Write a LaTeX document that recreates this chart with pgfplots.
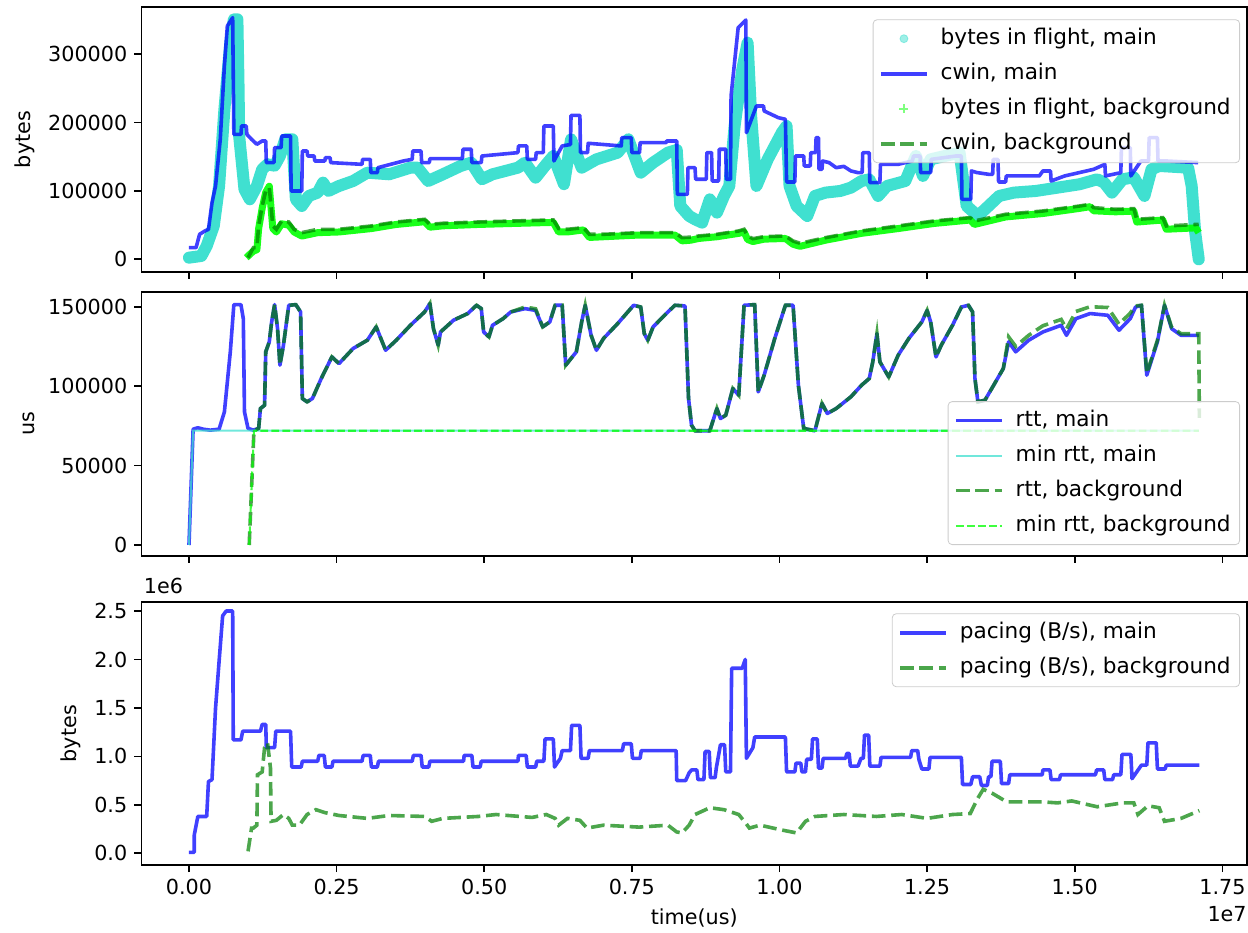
\documentclass[border=0pt]{standalone}
\usepackage{fontspec}
\setmainfont{DejaVu Sans}
\usepackage{pgfplots}
\pgfplotsset{compat=1.18}
\definecolor{turq}{RGB}{64,224,208}
\definecolor{mgreen}{RGB}{0,128,0}
\definecolor{limec}{RGB}{0,255,0}
\pgfplotsset{
  myaxis/.style={
    scale only axis, width=552.75pt,
    xmin=-0.0804, xmax=1.7917,
    axis line style={line width=0.83pt},
    every tick/.style={line width=0.83pt, black},
    major tick length=3.6pt, tick align=outside, tick pos=left,
    xtick={0,0.25,0.5,0.75,1,1.25,1.5,1.75},
    scaled ticks=false,
    legend cell align=left,
    legend image code/.code={\draw[##1] (0pt,0pt) -- (23pt,0pt);},
    legend style={draw=black!20, fill=white, fill opacity=0.8, draw opacity=1, text opacity=1,
      rounded corners=2pt, inner xsep=3pt, inner ysep=3pt, row sep=4.5pt, column sep=4.5pt,
      nodes={inner sep=1.5pt, text height=7.8pt, text depth=2.2pt},
      font=\fontsize{10.8pt}{12.9pt}\selectfont},
    tick label style={font=\fontsize{10.35pt}{12.4pt}\selectfont},
    label style={font=\fontsize{10.35pt}{12.4pt}\selectfont},
  },
  mainline/.style={color=blue, opacity=0.75, line width=1.8pt, line join=round},
  bgline/.style={color=mgreen, opacity=0.7, line width=1.8pt, dash pattern=on 6.8pt off 2.9pt},
}
\begin{document}
\begin{tikzpicture}[font=\fontsize{10.35pt}{12.4pt}\selectfont]
\useasboundingbox (0,0) rectangle (624pt,-466pt);
% ---------------- top panel ----------------
\begin{axis}[myaxis, at={(70.75pt,-3.65pt)}, anchor=north west, height=132.2pt,
  ymin=-18150, ymax=368800, ytick={0,100000,200000,300000},
  yticklabels={0,100000,200000,300000}, xticklabels={},
  ylabel={bytes},
  legend style={at={(0.9937,0.9546)}, anchor=north east}]
\addplot[forget plot, color=turq, line width=6pt, line join=round, line cap=round] coordinates {
(0.000,2400)(0.021,4900)(0.030,19500)(0.042,48800)(0.051,107300)(0.060,219500)(0.070,317000)(0.076,351200)(0.082,351200)(0.084,250000)(0.085,180500)(0.094,102400)(0.103,87800)(0.115,107300)(0.124,131700)(0.133,139000)(0.145,137000)(0.154,151200)(0.163,175600)(0.175,175600)(0.181,87800)(0.191,78000)(0.203,92700)(0.218,97600)(0.227,112200)(0.236,100000)(0.254,107300)(0.278,114600)(0.302,126800)(0.339,124400)(0.375,134100)(0.387,134100)(0.405,114600)(0.430,124400)(0.460,136600)(0.478,141500)(0.496,117100)(0.514,124400)(0.557,134100)(0.569,141500)(0.587,119500)(0.605,139000)(0.617,151200)(0.635,109800)(0.647,175600)(0.665,134100)(0.690,146300)(0.726,156100)(0.744,175600)(0.765,126800)(0.786,141500)(0.811,156100)(0.826,160000)(0.832,78000)(0.847,63400)(0.857,58500)(0.869,53700)(0.882,87800)(0.894,68300)(0.906,92700)(0.915,107300)(0.924,195100)(0.937,278000)(0.946,317100)(0.952,209800)(0.961,107300)(0.980,146300)(1.004,185400)(1.012,195100)(1.017,107300)(1.029,78000)(1.047,63400)(1.060,92700)(1.078,97600)(1.103,100000)(1.121,104900)(1.139,114600)(1.152,117000)(1.167,92700)(1.182,107300)(1.213,114600)(1.231,151200)(1.243,122000)(1.256,146300)(1.280,151200)(1.305,156100)(1.317,78000)(1.336,63400)(1.354,78000)(1.372,92700)(1.397,97600)(1.434,100000)(1.471,104900)(1.508,109800)(1.538,117100)(1.550,112000)(1.563,97600)(1.581,117100)(1.600,120000)(1.618,92700)(1.630,131700)(1.643,136600)(1.692,134100)(1.698,107300)(1.704,39000)(1.710,0)
};
\addlegendimage{legend image code/.code={\fill[turq, opacity=0.5] (11.5pt,0pt) circle (2pt);}}
\addlegendentry{bytes in flight, main}
\addplot[forget plot, color=limec, opacity=0.9, line width=3.5pt, line join=round] coordinates {
(0.097,2400)(0.109,12000)(0.115,14000)(0.118,45000)(0.124,75000)(0.130,98000)(0.136,107000)(0.139,75000)(0.142,45000)(0.148,40000)(0.157,52000)(0.169,50000)(0.178,40000)(0.191,34000)(0.218,39000)(0.254,40000)(0.309,45000)(0.351,51000)(0.399,55000)(0.408,47000)(0.430,49000)(0.490,51000)(0.551,52500)(0.617,54000)(0.626,40000)(0.641,40000)(0.668,43000)(0.678,32000)(0.702,33000)(0.762,35500)(0.823,35500)(0.835,27000)(0.850,28000)(0.863,30500)(0.894,33000)(0.931,38000)(0.940,40000)(0.946,29000)(0.955,26000)(0.974,29500)(1.010,30500)(1.023,22000)(1.035,19000)(1.078,28000)(1.139,38000)(1.201,45000)(1.262,52500)(1.323,57500)(1.330,51000)(1.383,62000)(1.446,67000)(1.508,74500)(1.526,77000)(1.532,71000)(1.569,69500)(1.600,70500)(1.605,54500)(1.649,57500)(1.655,44000)(1.705,46000)(1.710,39000)
};
\addplot[mainline] coordinates {
(0,17000)(0.012,17000)(0.018,36600)(0.027,41500)(0.033,43900)(0.039,82900)(0.045,107300)(0.053,175600)(0.060,283000)(0.065,341500)(0.074,353700)(0.076,182900)(0.088,182900)(0.089,195100)(0.097,195100)(0.098,182900)(0.106,175600)(0.115,168300)(0.124,173200)(0.130,173200)(0.131,141500)(0.144,141500)(0.145,163400)(0.156,163400)(0.157,180500)(0.172,180500)(0.173,100000)(0.191,100000)(0.192,158500)(0.200,158500)(0.201,151200)(0.212,151200)(0.213,143900)(0.230,143900)(0.231,148800)(0.239,148800)(0.240,141500)(0.293,139000)(0.294,146300)(0.307,146300)(0.308,126800)(0.319,126800)(0.320,134100)(0.363,143900)(0.378,146300)(0.379,158500)(0.393,158500)(0.394,141500)(0.407,141500)(0.408,147300)(0.463,147300)(0.464,161000)(0.478,161000)(0.479,141500)(0.495,141500)(0.496,151200)(0.557,156100)(0.558,165900)(0.572,165900)(0.573,146300)(0.587,146300)(0.588,156100)(0.600,156100)(0.601,195100)(0.617,195100)(0.618,143900)(0.632,165900)(0.646,168000)(0.647,210700)(0.662,210700)(0.663,156100)(0.675,156100)(0.676,169800)(0.732,165900)(0.733,178000)(0.749,178000)(0.750,156100)(0.763,156100)(0.764,170700)(0.808,170700)(0.809,173200)(0.826,173200)(0.827,95100)(0.844,95100)(0.845,134100)(0.857,134100)(0.858,117100)(0.876,117100)(0.877,156100)(0.885,156100)(0.886,114600)(0.897,114600)(0.898,161000)(0.909,161000)(0.910,117100)(0.917,117100)(0.918,239000)(0.930,339000)(0.943,350200)(0.944,185400)(0.961,224400)(0.973,224400)(0.974,217100)(0.986,212200)(0.998,207300)(1.010,204900)(1.012,113200)(1.026,113200)(1.027,151200)(1.041,151200)(1.042,136600)(1.052,136600)(1.053,156100)(1.061,156100)(1.062,178000)(1.066,178000)(1.067,131700)(1.072,131700)(1.073,143900)(1.084,141500)(1.096,134100)(1.109,136000)(1.121,129300)(1.133,126800)(1.140,126800)(1.141,156100)(1.152,156100)(1.153,112200)(1.170,112200)(1.171,139000)(1.201,139000)(1.225,143900)(1.227,151200)(1.238,151200)(1.239,126800)(1.256,126800)(1.257,146300)(1.299,151200)(1.308,151200)(1.309,87800)(1.324,87800)(1.325,129300)(1.334,127000)(1.354,124400)(1.361,124400)(1.362,146300)(1.370,146300)(1.371,113200)(1.383,113200)(1.384,122000)(1.440,122000)(1.446,129300)(1.459,129300)(1.460,114600)(1.483,122000)(1.532,131700)(1.551,139000)(1.552,122000)(1.578,126800)(1.579,163400)(1.594,163400)(1.595,122000)(1.612,143900)(1.625,143900)(1.626,178000)(1.640,178000)(1.641,143900)(1.655,143900)(1.709,141500)
};
\addlegendentry{cwin, main}
\addlegendimage{legend image code/.code={\draw[limec, opacity=0.5, line width=0.9pt] (9.25pt,0pt) -- (13.75pt,0pt) (11.5pt,-2.25pt) -- (11.5pt,2.25pt);}}
\addlegendentry{bytes in flight, background}
\addplot[bgline] coordinates {
(0.100,2400)(0.109,17000)(0.115,17000)(0.118,48800)(0.124,78000)(0.130,100000)(0.136,104900)(0.139,78000)(0.142,48800)(0.148,43900)(0.157,56100)(0.169,54600)(0.178,43900)(0.191,39000)(0.218,43900)(0.254,43900)(0.309,48800)(0.351,54600)(0.399,58500)(0.408,51200)(0.430,52700)(0.490,54600)(0.551,56100)(0.617,57600)(0.626,44900)(0.641,43900)(0.668,46300)(0.678,36600)(0.702,36600)(0.762,39000)(0.823,39000)(0.835,31700)(0.850,32500)(0.863,34100)(0.894,36600)(0.931,41500)(0.940,43900)(0.946,34100)(0.955,30200)(0.974,33200)(1.010,34100)(1.023,26800)(1.035,23400)(1.078,31700)(1.139,41500)(1.201,48800)(1.262,56100)(1.323,61000)(1.330,56100)(1.383,65900)(1.446,70700)(1.508,78000)(1.526,80500)(1.532,75600)(1.569,73200)(1.600,74100)(1.605,58500)(1.649,61000)(1.655,48800)(1.710,51200)
};
\addlegendentry{cwin, background}
\end{axis}
% ---------------- middle panel ----------------
\begin{axis}[myaxis, at={(70.75pt,-146.15pt)}, anchor=north west, height=131.7pt,
  ymin=-6740, ymax=159070, ytick={0,50000,100000,150000},
  yticklabels={0,50000,100000,150000}, xticklabels={},
  ylabel={us},
  legend style={at={(0.9937,0.0406)}, anchor=south east}]
\addplot[mainline] coordinates {
(0,0)(0.007,72900)(0.015,73800)(0.024,72900)(0.036,72300)(0.051,72900)(0.060,83800)(0.070,121600)(0.076,151300)(0.088,151300)(0.092,142500)(0.094,83800)(0.100,73400)(0.109,72300)(0.118,73400)(0.121,85900)(0.128,88000)(0.130,121600)(0.136,127900)(0.140,140400)(0.145,151300)(0.150,136200)(0.154,113200)(0.160,125800)(0.169,150900)(0.181,151300)(0.189,146700)(0.192,92200)(0.200,90100)(0.209,92200)(0.224,104800)(0.242,118400)(0.254,114200)(0.278,123700)(0.302,128900)(0.317,137300)(0.333,122600)(0.351,128900)(0.375,138300)(0.399,146700)(0.408,152000)(0.414,136200)(0.422,125800)(0.426,134100)(0.448,141500)(0.472,145700)(0.487,150900)(0.495,148800)(0.499,134100)(0.508,131000)(0.514,138300)(0.532,142500)(0.545,146700)(0.569,148800)(0.587,147700)(0.599,137300)(0.611,140400)(0.620,150900)(0.632,150900)(0.638,113200)(0.656,121600)(0.665,140400)(0.671,150900)(0.681,132000)(0.690,122600)(0.702,130000)(0.726,139400)(0.753,150900)(0.765,149800)(0.771,133100)(0.777,128900)(0.786,137300)(0.811,146700)(0.823,150900)(0.840,150500)(0.846,92200)(0.851,75500)(0.857,71900)(0.882,71900)(0.894,85900)(0.900,79600)(0.909,81700)(0.921,98500)(0.931,94300)(0.940,150900)(0.958,151300)(0.964,96400)(0.974,106900)(0.992,130000)(1.010,150900)(1.023,150900)(1.032,100600)(1.041,73400)(1.060,71900)(1.072,89100)(1.081,82800)(1.096,85900)(1.121,93300)(1.139,100600)(1.152,104800)(1.158,115300)(1.165,133100)(1.170,115300)(1.185,105800)(1.201,119500)(1.219,130000)(1.241,140400)(1.250,147700)(1.256,140400)(1.265,118400)(1.274,125800)(1.293,138300)(1.308,149800)(1.320,150900)(1.327,146700)(1.331,104800)(1.336,90100)(1.348,91200)(1.366,102700)(1.379,111100)(1.388,127900)(1.400,121600)(1.422,128900)(1.446,134100)(1.477,138300)(1.486,132000)(1.502,142500)(1.526,145700)(1.556,144600)(1.575,135200)(1.594,142500)(1.603,149800)(1.613,150900)(1.622,106900)(1.630,116300)(1.640,127900)(1.652,150900)(1.664,136200)(1.680,132000)(1.710,132000)
};
\addlegendentry{rtt, main}
\addplot[color=turq, opacity=0.75, line width=1.03pt] coordinates {
(0,0)(0.007,72000)(1.710,72000)
};
\addlegendentry{min rtt, main}
\addplot[bgline] coordinates {
(0.102,0)(0.110,71900)(0.118,73400)(0.121,85900)(0.128,88000)(0.130,121600)(0.136,127900)(0.140,140400)(0.145,151300)(0.150,136200)(0.154,113200)(0.160,125800)(0.169,150900)(0.181,151300)(0.189,146700)(0.192,92200)(0.200,90100)(0.209,92200)(0.224,104800)(0.242,118400)(0.254,114200)(0.278,123700)(0.302,128900)(0.317,137300)(0.333,122600)(0.351,128900)(0.375,138300)(0.399,146700)(0.408,152000)(0.414,136200)(0.422,125800)(0.426,134100)(0.448,141500)(0.472,145700)(0.487,150900)(0.495,148800)(0.499,134100)(0.508,131000)(0.514,138300)(0.532,142500)(0.545,146700)(0.569,149800)(0.587,148700)(0.599,137300)(0.611,140400)(0.620,150900)(0.632,150900)(0.638,113200)(0.656,121600)(0.665,140400)(0.671,150900)(0.681,132000)(0.690,122600)(0.702,130000)(0.726,139400)(0.753,150900)(0.765,149800)(0.771,133100)(0.777,128900)(0.786,137300)(0.811,146700)(0.823,150900)(0.840,150500)(0.846,92200)(0.851,75500)(0.857,71900)(0.882,71900)(0.894,85900)(0.900,79600)(0.909,81700)(0.921,98500)(0.931,94300)(0.940,150900)(0.958,151300)(0.964,96400)(0.974,106900)(0.992,130000)(1.010,150900)(1.023,150900)(1.032,100600)(1.041,73400)(1.060,71900)(1.072,89100)(1.081,82800)(1.096,85900)(1.121,93300)(1.139,100600)(1.152,104800)(1.158,115300)(1.165,133100)(1.170,115300)(1.185,105800)(1.201,119500)(1.219,130000)(1.241,140400)(1.250,147700)(1.256,140400)(1.265,118400)(1.274,125800)(1.293,138300)(1.308,149800)(1.320,150900)(1.327,146700)(1.331,104800)(1.336,90100)(1.348,91200)(1.366,102700)(1.379,111100)(1.388,131000)(1.400,125000)(1.422,132000)(1.446,138000)(1.477,142000)(1.486,136000)(1.502,147000)(1.526,150000)(1.556,149500)(1.575,139000)(1.594,146000)(1.603,150500)(1.613,150900)(1.622,108000)(1.630,117300)(1.640,128900)(1.652,150900)(1.664,137200)(1.680,133000)(1.710,133000)(1.711,80000)
};
\addlegendentry{rtt, background}
\addplot[color=limec, opacity=0.75, line width=1.03pt, dash pattern=on 3.83pt off 1.66pt] coordinates {
(0.102,0)(0.110,71900)(1.710,71900)
};
\addlegendentry{min rtt, background}
\end{axis}
% ---------------- bottom panel ----------------
\begin{axis}[myaxis, name=bot, at={(70.75pt,-301.15pt)}, anchor=north west, height=131.35pt,
  ymin=-0.121, ymax=2.590, ytick={0,0.5,1,1.5,2,2.5},
  yticklabels={0.0,0.5,1.0,1.5,2.0,2.5},
  xticklabels={0.00,0.25,0.50,0.75,1.00,1.25,1.50,1.75},
  ylabel={bytes}, xlabel={time(us)},
  legend style={at={(0.9937,0.958)}, anchor=north east}]
\addplot[mainline] coordinates {
(0,0.01)(0.009,0.01)(0.009,0.19)(0.015,0.38)(0.030,0.38)(0.033,0.74)(0.039,0.76)(0.045,1.50)(0.051,1.98)(0.057,2.45)(0.063,2.50)(0.074,2.50)(0.075,1.17)(0.088,1.17)(0.091,1.26)(0.121,1.26)(0.124,1.33)(0.130,1.33)(0.131,1.09)(0.145,1.09)(0.147,1.26)(0.172,1.26)(0.174,0.89)(0.190,0.89)(0.192,0.95)(0.218,0.95)(0.220,1.01)(0.229,1.01)(0.231,0.89)(0.242,0.89)(0.244,0.95)(0.293,0.95)(0.295,1.01)(0.307,1.01)(0.309,0.89)(0.319,0.89)(0.321,0.95)(0.378,0.95)(0.380,1.01)(0.393,1.01)(0.395,0.89)(0.406,0.89)(0.408,0.95)(0.465,0.95)(0.466,1.01)(0.479,1.01)(0.481,0.89)(0.493,0.89)(0.495,0.95)(0.557,0.95)(0.558,1.01)(0.571,1.01)(0.573,0.89)(0.587,0.89)(0.589,0.95)(0.601,0.95)(0.603,1.18)(0.617,1.18)(0.619,0.89)(0.629,0.98)(0.632,1.06)(0.646,1.06)(0.648,1.32)(0.662,1.32)(0.664,0.98)(0.676,0.98)(0.678,1.06)(0.734,1.06)(0.736,1.13)(0.749,1.13)(0.751,0.98)(0.764,0.98)(0.766,1.06)(0.825,1.06)(0.826,0.75)(0.841,0.75)(0.847,0.83)(0.851,0.86)(0.860,0.86)(0.862,0.76)(0.872,0.76)(0.874,1.05)(0.881,1.05)(0.883,0.78)(0.891,0.78)(0.893,0.88)(0.900,1.12)(0.907,1.12)(0.909,0.84)(0.917,0.84)(0.919,1.91)(0.937,1.91)(0.942,2.00)(0.944,0.98)(0.955,1.09)(0.958,1.20)(1.010,1.20)(1.012,0.84)(1.026,0.84)(1.028,0.93)(1.036,0.93)(1.038,0.84)(1.044,0.84)(1.046,0.97)(1.054,0.97)(1.056,1.18)(1.064,1.18)(1.066,0.88)(1.072,0.88)(1.074,0.98)(1.112,0.98)(1.114,1.03)(1.118,1.03)(1.120,0.90)(1.133,0.90)(1.138,0.98)(1.142,0.98)(1.144,1.22)(1.151,1.22)(1.153,0.90)(1.170,0.90)(1.172,0.99)(1.222,0.99)(1.224,1.06)(1.234,1.06)(1.236,0.97)(1.241,0.87)(1.253,0.87)(1.255,0.99)(1.308,0.99)(1.310,0.71)(1.324,0.71)(1.327,0.79)(1.339,0.79)(1.342,0.70)(1.352,0.70)(1.354,0.79)(1.358,0.79)(1.360,0.95)(1.374,0.95)(1.376,0.72)(1.388,0.72)(1.390,0.81)(1.445,0.81)(1.446,0.86)(1.458,0.86)(1.460,0.76)(1.474,0.76)(1.476,0.81)(1.535,0.81)(1.537,0.86)(1.549,0.86)(1.551,0.76)(1.564,0.76)(1.566,0.81)(1.578,0.81)(1.580,1.02)(1.595,1.02)(1.597,0.77)(1.613,0.91)(1.622,0.91)(1.624,1.14)(1.638,1.14)(1.640,0.87)(1.653,0.87)(1.655,0.91)(1.711,0.91)
};
\addlegendentry{pacing (B/s), main}
\addplot[bgline] coordinates {
(0.100,0.02)(0.106,0.26)(0.109,0.26)(0.115,0.29)(0.116,0.81)(0.124,0.84)(0.128,1.09)(0.133,1.14)(0.138,0.88)(0.139,0.33)(0.148,0.34)(0.160,0.40)(0.169,0.36)(0.175,0.29)(0.187,0.29)(0.200,0.40)(0.215,0.45)(0.230,0.42)(0.254,0.39)(0.302,0.36)(0.339,0.39)(0.399,0.38)(0.411,0.33)(0.430,0.36)(0.490,0.38)(0.520,0.40)(0.581,0.37)(0.605,0.40)(0.620,0.36)(0.626,0.29)(0.641,0.36)(0.662,0.34)(0.674,0.26)(0.702,0.29)(0.762,0.27)(0.811,0.29)(0.826,0.22)(0.835,0.21)(0.847,0.29)(0.857,0.40)(0.882,0.47)(0.906,0.45)(0.931,0.40)(0.943,0.31)(0.949,0.26)(0.967,0.29)(1.004,0.24)(1.029,0.21)(1.044,0.33)(1.060,0.38)(1.109,0.40)(1.164,0.38)(1.207,0.40)(1.250,0.36)(1.293,0.40)(1.323,0.41)(1.336,0.57)(1.345,0.66)(1.360,0.62)(1.385,0.53)(1.446,0.53)(1.471,0.52)(1.495,0.54)(1.538,0.48)(1.581,0.52)(1.600,0.52)(1.607,0.40)(1.624,0.49)(1.643,0.47)(1.652,0.33)(1.680,0.36)(1.711,0.44)
};
\addlegendentry{pacing (B/s), background}
\end{axis}
\node[anchor=base west, inner sep=0pt] at ([xshift=1pt,yshift=4.65pt]bot.north west) {1e6};
\node[anchor=north east, inner sep=0pt] at ([yshift=-20.5pt]bot.south east) {1e7};
\end{tikzpicture}
\end{document}
